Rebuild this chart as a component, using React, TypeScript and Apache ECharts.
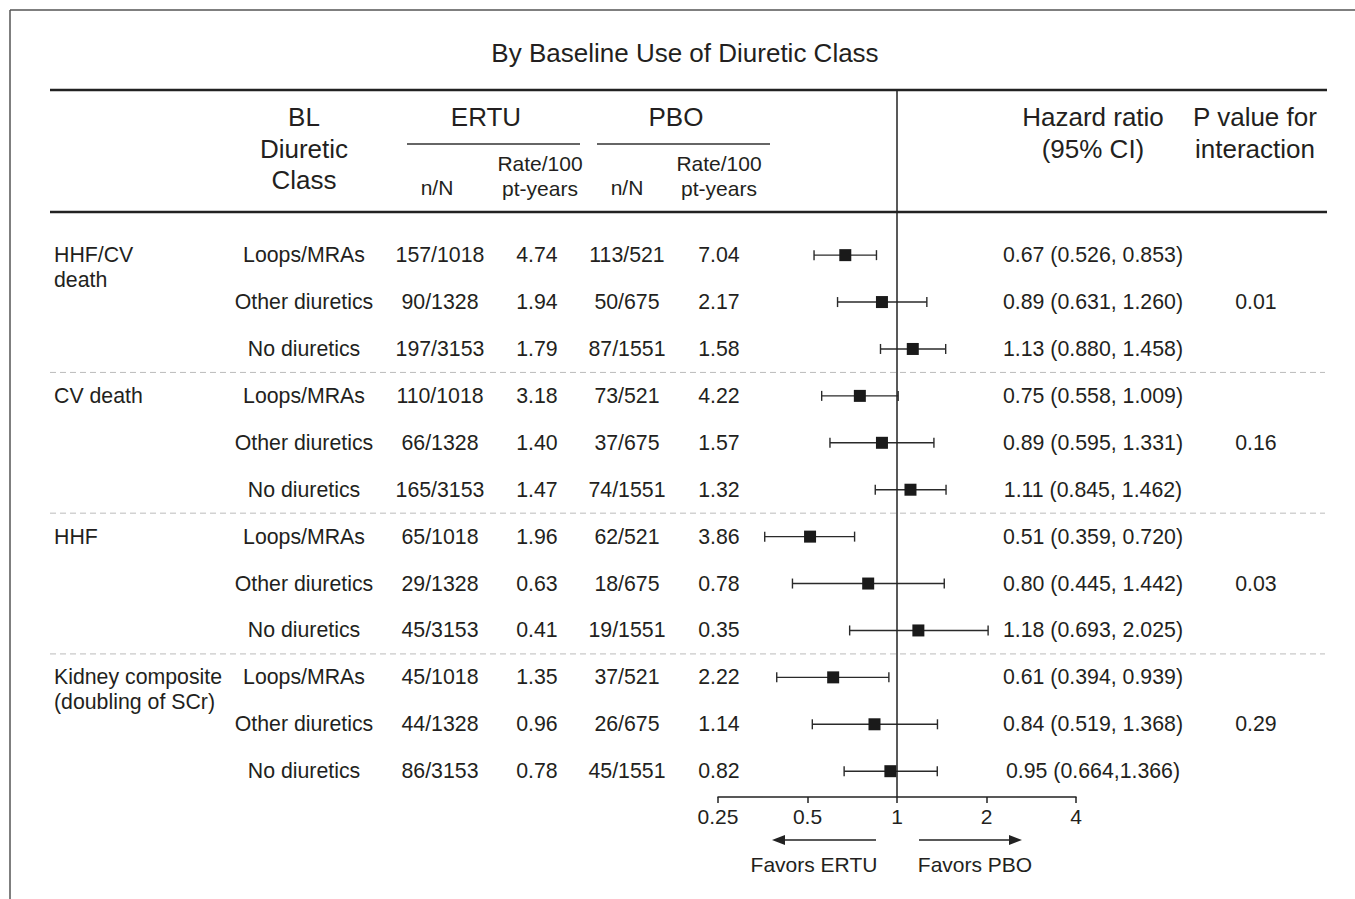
import React, { useEffect, useRef } from "react";
import * as echarts from "echarts";

const outcomes = ["HHF/CV\ndeath", "CV death", "HHF", "Kidney composite\n(doubling of SCr)"];
const subgroups = ["Loops/MRAs", "Other diuretics", "No diuretics"];
const ertuN = ["157/1018", "90/1328", "197/3153", "110/1018", "66/1328", "165/3153", "65/1018", "29/1328", "45/3153", "45/1018", "44/1328", "86/3153"];
const ertuRate = ["4.74", "1.94", "1.79", "3.18", "1.40", "1.47", "1.96", "0.63", "0.41", "1.35", "0.96", "0.78"];
const pboN = ["113/521", "50/675", "87/1551", "73/521", "37/675", "74/1551", "62/521", "18/675", "19/1551", "37/521", "26/675", "45/1551"];
const pboRate = ["7.04", "2.17", "1.58", "4.22", "1.57", "1.32", "3.86", "0.78", "0.35", "2.22", "1.14", "0.82"];
const hr = [0.67, 0.89, 1.13, 0.75, 0.89, 1.11, 0.51, 0.80, 1.18, 0.61, 0.84, 0.95];
const ciLow = [0.526, 0.631, 0.880, 0.558, 0.595, 0.845, 0.359, 0.445, 0.693, 0.394, 0.519, 0.664];
const ciHigh = [0.853, 1.260, 1.458, 1.009, 1.331, 1.462, 0.720, 1.442, 2.025, 0.939, 1.368, 1.366];
const hrText = ["0.67 (0.526, 0.853)", "0.89 (0.631, 1.260)", "1.13 (0.880, 1.458)", "0.75 (0.558, 1.009)", "0.89 (0.595, 1.331)", "1.11 (0.845, 1.462)", "0.51 (0.359, 0.720)", "0.80 (0.445, 1.442)", "1.18 (0.693, 2.025)", "0.61 (0.394, 0.939)", "0.84 (0.519, 1.368)", "0.95 (0.664,1.366)"];
const pValues = ["0.01", "0.16", "0.03", "0.29"];
const xTicks = [0.25, 0.5, 1, 2, 4];

const FONT = '"Liberation Sans", Arial, Helvetica, sans-serif';
const INK = "#231f20";
const GRID_TOP = 90;
const GRID_BOTTOM_Y = 797;
const Y_MIN = -3.52;
const Y_MAX = 11.55;
const ROW_FS = 21.3;
const HEAD_FS = 26;
const rowY = (i: number) => GRID_TOP + ((i - Y_MIN) * (GRID_BOTTOM_Y - GRID_TOP)) / (Y_MAX - Y_MIN);

function txt(text: string, x: number, y: number, size: number, align: string = "center") {
  return {
    type: "text",
    silent: true,
    style: {
      text,
      x,
      y,
      fill: INK,
      font: `${size}px ${FONT}`,
      textAlign: align,
      textVerticalAlign: "middle",
      verticalAlign: "middle",
    },
  };
}

function hline(x1: number, x2: number, y: number, width: number, color: string, dash?: number[]) {
  return {
    type: "line",
    silent: true,
    shape: { x1, y1: y, x2, y2: y },
    style: { stroke: color, lineWidth: width, lineDash: dash },
  };
}

export default function App() {
  const ref = useRef<HTMLDivElement>(null);
  useEffect(() => {
    if (!ref.current) return;
    const chart = echarts.init(ref.current, null, { renderer: "svg" });

    const graphics: any[] = [];
    // frame
    graphics.push({ type: "line", silent: true, shape: { x1: 10, y1: 10, x2: 1355, y2: 10 }, style: { stroke: "#555", lineWidth: 1.5 } });
    graphics.push({ type: "line", silent: true, shape: { x1: 10, y1: 10, x2: 10, y2: 899 }, style: { stroke: "#555", lineWidth: 1.5 } });
    // title
    graphics.push(txt("By Baseline Use of Diuretic Class", 685, 53, HEAD_FS));
    // rules
    graphics.push(hline(50, 1327, 90, 2.5, "#222"));
    graphics.push(hline(50, 1327, 212, 2.5, "#222"));
    // header
    graphics.push(txt("BL", 304, 117, HEAD_FS));
    graphics.push(txt("Diuretic", 304, 149, HEAD_FS));
    graphics.push(txt("Class", 304, 180, HEAD_FS));
    graphics.push(txt("ERTU", 486, 117, HEAD_FS));
    graphics.push(txt("PBO", 676, 117, HEAD_FS));
    graphics.push(hline(407, 580, 144, 1.3, "#333"));
    graphics.push(hline(597, 770, 144, 1.3, "#333"));
    graphics.push(txt("n/N", 437, 187, 21));
    graphics.push(txt("Rate/100", 540, 163, 21));
    graphics.push(txt("pt-years", 540, 188, 21));
    graphics.push(txt("n/N", 627, 187, 21));
    graphics.push(txt("Rate/100", 719, 163, 21));
    graphics.push(txt("pt-years", 719, 188, 21));
    graphics.push(txt("Hazard ratio", 1093, 117, HEAD_FS));
    graphics.push(txt("(95% CI)", 1093, 149, HEAD_FS));
    graphics.push(txt("P value for", 1255, 117, HEAD_FS));
    graphics.push(txt("interaction", 1255, 149, HEAD_FS));

    // body rows
    for (let i = 0; i < hr.length; i++) {
      const y = rowY(i);
      graphics.push(txt(subgroups[i % 3], 304, y, ROW_FS));
      graphics.push(txt(ertuN[i], 440, y, ROW_FS));
      graphics.push(txt(ertuRate[i], 537, y, ROW_FS));
      graphics.push(txt(pboN[i], 627, y, ROW_FS));
      graphics.push(txt(pboRate[i], 719, y, ROW_FS));
      graphics.push(txt(hrText[i], 1093, y, ROW_FS));
    }
    for (let g = 0; g < outcomes.length; g++) {
      const y0 = rowY(g * 3);
      const lines = outcomes[g].split("\n");
      lines.forEach((l, k) => graphics.push(txt(l, 54, y0 + k * 24.5, ROW_FS, "left")));
      graphics.push(txt(pValues[g], 1256, rowY(g * 3 + 1), ROW_FS));
      if (g > 0) {
        const ys = (rowY(g * 3 - 1) + rowY(g * 3)) / 2;
        graphics.push(hline(50, 1325, ys, 1, "#bbb", [6, 4]));
      }
    }
    // arrows
    const ay = 840;
    graphics.push(hline(783, 876, ay, 1.5, "#222"));
    graphics.push({ type: "polygon", silent: true, shape: { points: [[772, ay], [785, ay - 5], [785, ay + 5]] }, style: { fill: "#222" } });
    graphics.push(hline(919, 1010, ay, 1.5, "#222"));
    graphics.push({ type: "polygon", silent: true, shape: { points: [[1022, ay], [1009, ay - 5], [1009, ay + 5]] }, style: { fill: "#222" } });
    graphics.push(txt("Favors ERTU", 814, 864, 21));
    graphics.push(txt("Favors PBO", 975, 864, 21));

    const ciData = hr.map((_, i) => [ciLow[i], ciHigh[i], i]);
    const ptData = hr.map((v, i) => [v, i]);

    chart.setOption({
      animation: false,
      grid: { left: 718, right: 1355 - 1076, top: GRID_TOP, bottom: 899 - GRID_BOTTOM_Y, containLabel: false },
      xAxis: {
        type: "log",
        logBase: 2,
        min: 0.25,
        max: 4,
        axisLine: { show: true, onZero: false, lineStyle: { color: "#222", width: 1.5 } },
        axisTick: { show: true, length: 6, lineStyle: { color: "#222", width: 1.5 } },
        axisLabel: {
          show: true,
          margin: 9,
          color: INK,
          fontSize: 21,
          fontFamily: FONT,
          formatter: (v: number) => (xTicks.includes(v) ? String(v) : ""),
        },
        splitLine: { show: false },
      },
      yAxis: { type: "value", inverse: true, min: Y_MIN, max: Y_MAX, show: false },
      graphic: graphics,
      series: [
        {
          type: "custom",
          silent: true,
          data: ciData,
          renderItem: (params: any, api: any) => {
            const lo = api.coord([api.value(0), api.value(2)]);
            const hi = api.coord([api.value(1), api.value(2)]);
            const c = 5;
            const st = { stroke: "#2a2a2a", lineWidth: 1.4 };
            return {
              type: "group",
              children: [
                { type: "line", shape: { x1: lo[0], y1: lo[1], x2: hi[0], y2: hi[1] }, style: st },
                { type: "line", shape: { x1: lo[0], y1: lo[1] - c, x2: lo[0], y2: lo[1] + c }, style: st },
                { type: "line", shape: { x1: hi[0], y1: hi[1] - c, x2: hi[0], y2: hi[1] + c }, style: st },
              ],
            };
          },
          z: 2,
        },
        {
          type: "scatter",
          silent: true,
          data: ptData,
          symbol: "rect",
          symbolSize: 12,
          itemStyle: { color: "#1a1a1a", opacity: 1 },
          z: 3,
          markLine: {
            silent: true,
            symbol: "none",
            label: { show: false },
            lineStyle: { color: "#222", width: 1.5, type: "solid" },
            data: [{ xAxis: 1 }],
          },
        },
      ],
    });
    return () => chart.dispose();
  }, []);
  return <div ref={ref} style={{ position: "absolute", left: 0, top: 0, width: 1355, height: 899, background: "#fff" }} />;
}
